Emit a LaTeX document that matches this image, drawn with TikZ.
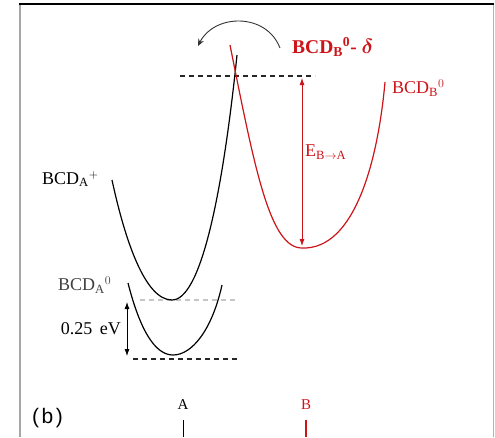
\documentclass[tikz,border=0pt]{standalone}
\usepackage{fontspec}
\usepackage{bm}
\setmainfont{Liberation Serif}
\newfontfamily\labfont[LetterSpace=12]{Liberation Sans}
\usetikzlibrary{arrows.meta}
\definecolor{dred}{RGB}{205,20,25}
\tikzset{
  curveblack/.style={black, line width=1.2pt},
  curvered/.style={dred, line width=1.2pt},
  lvl/.style={dashed, dash pattern=on 5pt off 4pt, line width=1.3pt},
  lbl/.style={inner sep=0pt, font=\fontsize{18}{20}\selectfont},
  dblarrow/.style={{Latex[length=7pt,width=5pt]}-{Latex[length=7pt,width=5pt]}, line width=0.8pt}
}
\begin{document}
\begin{tikzpicture}[x=1pt,y=-1pt]
\useasboundingbox (0,0) rectangle (495,437);
% frame
\draw[gray!70, line width=2pt] (20,4) -- (20,437);
\draw[gray!60, line width=1pt] (493,4) -- (493,437);
\draw[black, line width=1.6pt] (19,4) -- (494,4);

% level lines
\coordinate (tl1) at (180,76); \coordinate (tl2) at (315,76);
\draw[lvl, black!85] (tl1) -- (tl2);
\coordinate (gl1) at (140,300); \coordinate (gl2) at (238,300);
\draw[lvl, gray!45, line width=1.1pt] (gl1) -- (gl2);
\coordinate (bl1) at (133,359); \coordinate (bl2) at (238,359);
\draw[lvl, black!85] (bl1) -- (bl2);

% upper black curve BCD_A^+
\draw[curveblack] (112,180) .. controls (125,240) and (145,300) .. (172,300)
  .. controls (200,300) and (222,200) .. (237,55);
% lower black curve BCD_A^0
\draw[curveblack] (128,283) .. controls (140,330) and (155,355) .. (173,355)
  .. controls (192,355) and (212,330) .. (222,285);
% red curve BCD_B^0
\draw[curvered] (230,45) .. controls (255,170) and (270,248) .. (302,248)
  .. controls (355,250) and (378,160) .. (385,82);

% E arrow
\coordinate (ea1) at (302,78); \coordinate (ea2) at (302,246);
\draw[dblarrow, dred] (ea1) -- (ea2);
\node[lbl, anchor=west, text=dred] (elab) at (305,152) {E$_{\mathrm{B}\rightarrow\mathrm{A}}$};

% 0.25 eV arrow
\coordinate (va1) at (127,302); \coordinate (va2) at (127,356);
\draw[dblarrow, black] (va1) -- (va2);
\node[lbl, anchor=east] (vlab) at (121,329) {0.25\, eV};

% curved arrow
\coordinate (ca1) at (280,48); \coordinate (ca2) at (198,46);
\draw[-{Stealth[length=7pt,width=6pt]}, line width=0.9pt, black!80] (ca1) .. controls (266,12) and (214,14) .. (ca2);

% labels
\node[lbl, anchor=west] (apl) at (42,179) {BCD$_{\mathrm{A}}{}^{+}$};
\node[lbl, anchor=west, text=black!75] (a0l) at (58,285) {BCD$_{\mathrm{A}}{}^{0}$};
\node[lbl, anchor=west, text=dred] (b0l) at (392,88) {BCD$_{\mathrm{B}}{}^{0}$};
\node[inner sep=0pt, anchor=west, text=dred, font=\fontsize{19.5}{21}\selectfont\bfseries] (bdl) at (292,47) {BCD$_{\mathbf{B}}{}^{\mathbf{0}}$- $\bm{\delta}$};

% bottom
\node[inner sep=0pt, anchor=west, font=\labfont\fontsize{21}{23}\selectfont] (blab) at (32,418) {(b)};
\node[inner sep=0pt, font=\fontsize{15}{17}\selectfont] (alab) at (183,405) {A};
\node[inner sep=0pt, font=\fontsize{15}{17}\selectfont, text=dred] (blab2) at (306,405) {B};
\coordinate (at1) at (183,420); \coordinate (at2) at (183,437);
\draw[line width=1pt] (at1) -- (at2);
\coordinate (bt1) at (306,420); \coordinate (bt2) at (306,437);
\draw[line width=1.4pt, dred] (bt1) -- (bt2);
\end{tikzpicture}
\end{document}
